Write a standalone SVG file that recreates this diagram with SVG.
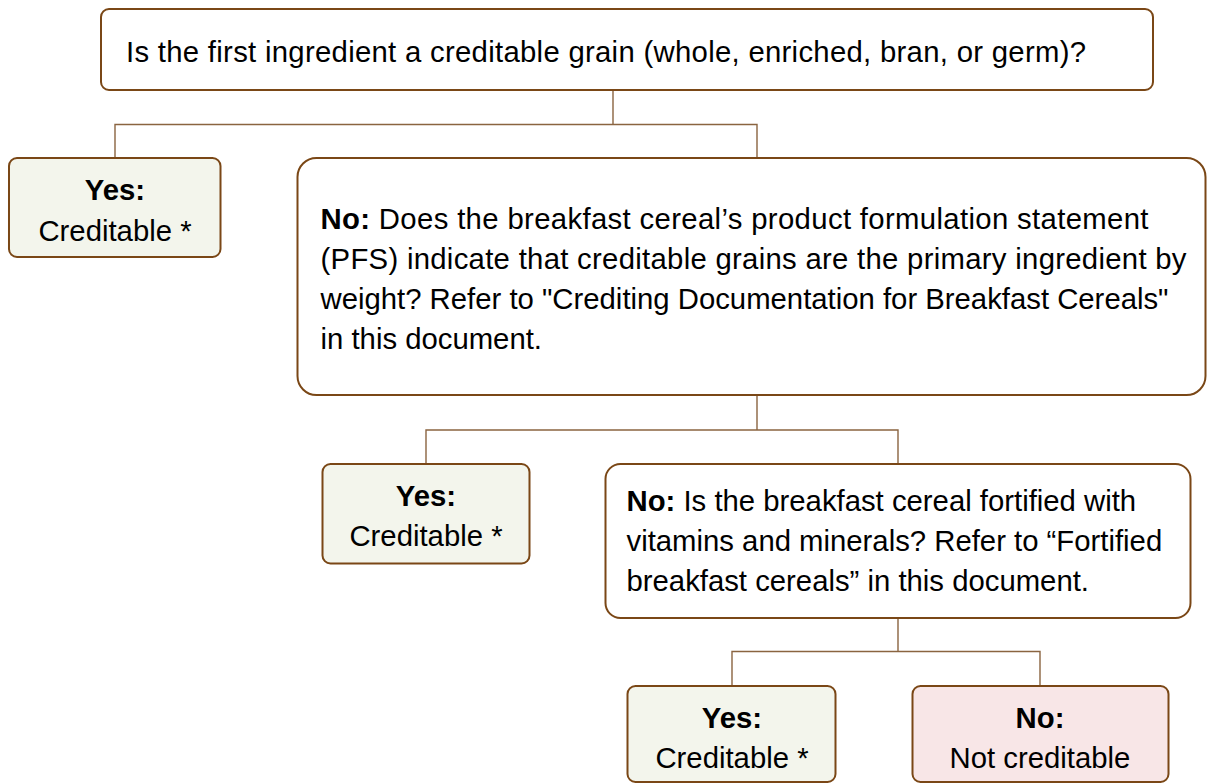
<svg xmlns="http://www.w3.org/2000/svg" width="1207" height="783" viewBox="0 0 1207 783">
<style>
  .box{fill:#ffffff;stroke:#7a4716;stroke-width:2}
  .yes{fill:#f3f5ec;stroke:#7a4716;stroke-width:2}
  .no{fill:#f8e6e7;stroke:#7a4716;stroke-width:2}
  .conn{fill:none;stroke:#8a6440;stroke-width:1.4}
  text{font-family:"Liberation Sans",Arial,sans-serif;font-size:29.3px;fill:#000}
  .b{font-weight:bold}
  .c{text-anchor:middle}
</style>
<rect width="1207" height="783" fill="#ffffff"/>
<g id="connectors">
  <path class="conn" d="M613,90 V124.5 M115,158 V124.5 H757 V158"/>
  <path class="conn" d="M757,395 V430 M426,464 V430 H898 V464"/>
  <path class="conn" d="M898,618 V651.5 M732,686 V651.5 H1040 V686"/>
</g>
<g id="q1">
  <rect class="box" x="101" y="9" width="1052" height="81" rx="8"/>
  <text x="126" y="62" textLength="960" lengthAdjust="spacing">Is the first ingredient a creditable grain (whole, enriched, bran, or germ)?</text>
</g>
<g id="yes1">
  <rect class="yes" x="9" y="158" width="211.5" height="99" rx="8"/>
  <text class="c b" x="115" y="200">Yes:</text>
  <text class="c" x="115" y="241">Creditable *</text>
</g>
<g id="q2">
  <rect class="box" x="297.5" y="158" width="908" height="237" rx="19"/>
  <text x="320.5" y="229" textLength="828" lengthAdjust="spacing"><tspan class="b">No:</tspan> Does the breakfast cereal’s product formulation statement</text>
  <text x="320.5" y="269" textLength="866" lengthAdjust="spacing">(PFS) indicate that creditable grains are the primary ingredient by</text>
  <text x="320.5" y="309">weight? Refer to "Crediting Documentation for Breakfast Cereals"</text>
  <text x="320.5" y="349">in this document.</text>
</g>
<g id="yes2">
  <rect class="yes" x="322.5" y="464" width="207" height="99.5" rx="8"/>
  <text class="c b" x="426" y="506">Yes:</text>
  <text class="c" x="426" y="546">Creditable *</text>
</g>
<g id="q3">
  <rect class="box" x="605.5" y="464" width="585" height="154" rx="15"/>
  <text x="626.5" y="511"><tspan class="b">No:</tspan> Is the breakfast cereal fortified with</text>
  <text x="626.5" y="551">vitamins and minerals? Refer to “Fortified</text>
  <text x="626.5" y="591">breakfast cereals” in this document.</text>
</g>
<g id="yes3">
  <rect class="yes" x="627.5" y="686" width="208" height="96" rx="8"/>
  <text class="c b" x="732" y="728">Yes:</text>
  <text class="c" x="732" y="768">Creditable *</text>
</g>
<g id="no3">
  <rect class="no" x="912.5" y="686" width="256" height="96" rx="8"/>
  <text class="c b" x="1040" y="728">No:</text>
  <text class="c" x="1040" y="768">Not creditable</text>
</g>
</svg>
